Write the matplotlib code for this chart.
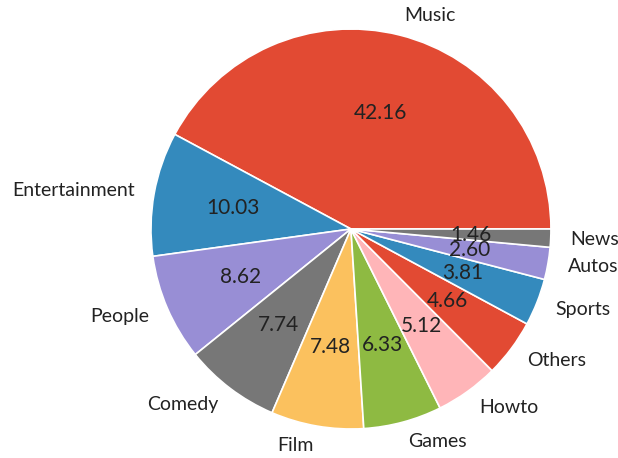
import matplotlib
matplotlib.use("Agg")
import matplotlib.pyplot as plt

categories = ["Music", "Entertainment", "People", "Comedy", "Film", "Games",
              "Howto", "Others", "Sports", "Autos", "News"]
shares = [42.16, 10.03, 8.62, 7.74, 7.48, 6.33, 5.12, 4.66, 3.81, 2.60, 1.46]

# ggplot colour cycle
palette = ["#E24A33", "#348ABD", "#988ED5", "#777777", "#FBC15E",
           "#8EBA42", "#FFB5B8"]
colors = [palette[i % len(palette)] for i in range(len(categories))]

plt.rcParams["font.family"] = ["Lato", "DejaVu Sans"]

fig = plt.figure(figsize=(6.18, 4.58), dpi=100)
ax = fig.add_axes([0.2443, 0.0633, 0.6472, 0.8734])
wedges, texts, autotexts = ax.pie(
    shares, labels=categories, colors=colors, autopct="%.2f",
    startangle=0, counterclock=True,
    wedgeprops=dict(edgecolor="white", linewidth=1.2),
    textprops=dict(color="#222222", fontsize=14))
for t in autotexts:
    t.set_fontsize(15)
ax.set_xlim(-1, 1)
ax.set_ylim(-1, 1)
ax.set_aspect("equal")
ax.axis("off")

fig.savefig("out.png", dpi=100)
